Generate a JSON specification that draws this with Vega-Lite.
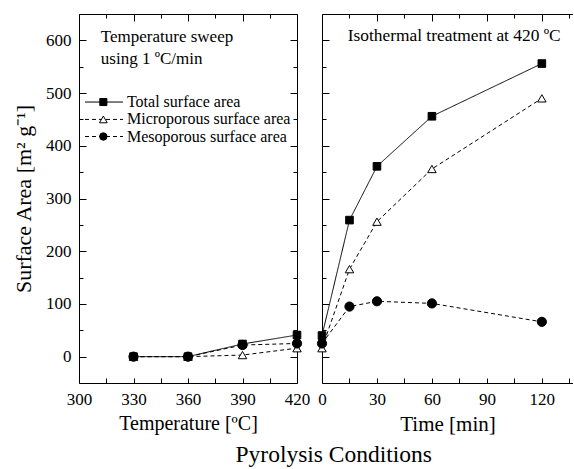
{
  "$schema": "https://vega.github.io/schema/vega-lite/v6.json",
  "background": "white",
  "padding": {"left": 12, "top": 13, "right": 0, "bottom": 4},
  "bounds": "flush",
  "spacing": 25,
  "title": {"text": "Pyrolysis Conditions", "orient": "bottom", "anchor": "middle", "fontSize": 23.5, "font": "Liberation Serif", "fontWeight": "normal", "color": "black", "offset": 9, "dx": 41},
  "config": {
    "font": "Liberation Serif",
    "view": {"stroke": null},
    "axis": {"domainColor": "black", "tickColor": "black", "labelColor": "black", "titleColor": "black", "labelFont": "Liberation Serif", "titleFont": "Liberation Serif", "labelFontSize": 17, "titleFontSize": 20, "titleFontWeight": "normal", "grid": false, "tickWidth": 1, "domainWidth": 1, "labelFlush": false, "labelOverlap": false}
  },
  "datasets": {
    "temp": [
      {"temp": 330, "series": "Total surface area", "area": 0},
      {"temp": 360, "series": "Total surface area", "area": 0},
      {"temp": 390, "series": "Total surface area", "area": 24},
      {"temp": 420, "series": "Total surface area", "area": 41},
      {"temp": 330, "series": "Microporous surface area", "area": 0},
      {"temp": 360, "series": "Microporous surface area", "area": 0},
      {"temp": 390, "series": "Microporous surface area", "area": 3},
      {"temp": 420, "series": "Microporous surface area", "area": 16},
      {"temp": 330, "series": "Mesoporous surface area", "area": 0},
      {"temp": 360, "series": "Mesoporous surface area", "area": 0},
      {"temp": 390, "series": "Mesoporous surface area", "area": 22},
      {"temp": 420, "series": "Mesoporous surface area", "area": 25}
    ],
    "time": [
      {"time": 0, "series": "Total surface area", "area": 40},
      {"time": 15, "series": "Total surface area", "area": 259},
      {"time": 30, "series": "Total surface area", "area": 361},
      {"time": 60, "series": "Total surface area", "area": 456},
      {"time": 120, "series": "Total surface area", "area": 556},
      {"time": 0, "series": "Microporous surface area", "area": 16},
      {"time": 15, "series": "Microporous surface area", "area": 166},
      {"time": 30, "series": "Microporous surface area", "area": 256},
      {"time": 60, "series": "Microporous surface area", "area": 356},
      {"time": 120, "series": "Microporous surface area", "area": 490},
      {"time": 0, "series": "Mesoporous surface area", "area": 25},
      {"time": 15, "series": "Mesoporous surface area", "area": 95},
      {"time": 30, "series": "Mesoporous surface area", "area": 105},
      {"time": 60, "series": "Mesoporous surface area", "area": 101},
      {"time": 120, "series": "Mesoporous surface area", "area": 66}
    ]
  },
  "hconcat": [
    {
      "width": 218,
      "height": 369,
      "data": {"name": "temp"},
      "layer": [
        {
          "mark": {"type": "line", "color": "black", "strokeWidth": 1},
          "encoding": {
            "x": {"field": "temp", "type": "quantitative", "scale": {"domain": [300, 420], "nice": false, "zero": false},
              "axis": {"orient": "bottom", "title": "Temperature [ºC]", "values": [300, 315, 330, 345, 360, 375, 390, 405, 420], "labelExpr": "datum.value % 30 === 0 ? datum.label : ''", "tickSize": -5, "labelPadding": 13, "titlePadding": 6}},
            "y": {"field": "area", "type": "quantitative", "scale": {"domain": [-50, 650], "nice": false, "zero": false},
              "axis": {"orient": "left", "title": "Surface Area [m² g⁻¹]", "titleFontSize": 22, "values": [0, 50, 100, 150, 200, 250, 300, 350, 400, 450, 500, 550, 600], "labelExpr": "datum.value % 100 === 0 ? datum.label : ''", "tickSize": {"condition": {"test": "datum.value % 100 === 0", "value": -7}, "value": -4}, "labelPadding": 15, "titlePadding": 10}},
            "strokeDash": {"field": "series", "type": "nominal", "scale": {"domain": ["Total surface area", "Microporous surface area", "Mesoporous surface area"], "range": [[1, 0], [4, 3], [4, 3]]}, "legend": null}
          }
        },
        {
          "mark": {"type": "point", "stroke": "black", "strokeWidth": 1, "opacity": 1},
          "encoding": {
            "x": {"field": "temp", "type": "quantitative", "scale": {"domain": [300, 420], "nice": false, "zero": false},
              "axis": {"orient": "top", "title": null, "labels": false, "values": [300, 315, 330, 345, 360, 375, 390, 405, 420], "tickSize": {"condition": {"test": "datum.value % 30 === 0", "value": -7}, "value": -4}}},
            "y": {"field": "area", "type": "quantitative", "scale": {"domain": [-50, 650], "nice": false, "zero": false},
              "axis": {"orient": "right", "title": null, "labels": false, "values": [0, 50, 100, 150, 200, 250, 300, 350, 400, 450, 500, 550, 600], "tickSize": {"condition": {"test": "datum.value % 100 === 0", "value": -7}, "value": -4}}},
            "shape": {"field": "series", "type": "nominal", "scale": {"domain": ["Total surface area", "Microporous surface area", "Mesoporous surface area"], "range": ["square", "triangle-up", "circle"]}, "legend": null},
            "fill": {"field": "series", "type": "nominal", "scale": {"domain": ["Total surface area", "Microporous surface area", "Mesoporous surface area"], "range": ["black", "white", "black"]}, "legend": null},
            "size": {"field": "series", "type": "nominal", "scale": {"domain": ["Total surface area", "Microporous surface area", "Mesoporous surface area"], "range": [58, 85, 65]}, "legend": null}
          }
        },
        {
          "data": {"values": [{}]},
          "mark": {"type": "text", "align": "left", "baseline": "middle", "font": "Liberation Serif", "fontSize": 17, "lineHeight": 22, "color": "black"},
          "encoding": {
            "x": {"datum": 312, "type": "quantitative", "axis": null},
            "y": {"datum": 606, "type": "quantitative", "axis": null},
            "text": {"value": ["Temperature sweep", "using 1 ºC/min"]}
          }
        },
        {
          "data": {"values": [{}]},
          "mark": {"type": "rule", "color": "black", "strokeWidth": 1},
          "encoding": {
            "x": {"datum": 303.3, "type": "quantitative", "axis": null},
            "x2": {"datum": 324.2},
            "y": {"datum": 483, "type": "quantitative", "axis": null}
          }
        },
        {
          "data": {"values": [{}]},
          "mark": {"type": "rule", "color": "black", "strokeWidth": 1, "strokeDash": [4, 3]},
          "encoding": {
            "x": {"datum": 303.3, "type": "quantitative", "axis": null},
            "x2": {"datum": 324.2},
            "y": {"datum": 450, "type": "quantitative", "axis": null}
          }
        },
        {
          "data": {"values": [{}]},
          "mark": {"type": "rule", "color": "black", "strokeWidth": 1, "strokeDash": [4, 3]},
          "encoding": {
            "x": {"datum": 303.3, "type": "quantitative", "axis": null},
            "x2": {"datum": 324.2},
            "y": {"datum": 417.6, "type": "quantitative", "axis": null}
          }
        },
        {
          "data": {"values": [{}]},
          "mark": {"type": "point", "shape": "square", "size": 50, "fill": "black", "stroke": "black", "strokeWidth": 1, "opacity": 1, "filled": true},
          "encoding": {
            "x": {"datum": 313.4, "type": "quantitative", "axis": null},
            "y": {"datum": 483, "type": "quantitative", "axis": null}
          }
        },
        {
          "data": {"values": [{}]},
          "mark": {"type": "point", "shape": "triangle-up", "size": 60, "fill": "white", "stroke": "black", "strokeWidth": 1, "opacity": 1},
          "encoding": {
            "x": {"datum": 313.4, "type": "quantitative", "axis": null},
            "y": {"datum": 450, "type": "quantitative", "axis": null}
          }
        },
        {
          "data": {"values": [{}]},
          "mark": {"type": "point", "shape": "circle", "size": 55, "fill": "black", "stroke": "black", "strokeWidth": 1, "opacity": 1, "filled": true},
          "encoding": {
            "x": {"datum": 313.4, "type": "quantitative", "axis": null},
            "y": {"datum": 417.6, "type": "quantitative", "axis": null}
          }
        },
        {
          "data": {"values": [{}]},
          "mark": {"type": "text", "align": "left", "baseline": "middle", "font": "Liberation Serif", "fontSize": 16, "color": "black"},
          "encoding": {
            "x": {"datum": 326.4, "type": "quantitative", "axis": null},
            "y": {"datum": 483, "type": "quantitative", "axis": null},
            "text": {"value": "Total surface area"}
          }
        },
        {
          "data": {"values": [{}]},
          "mark": {"type": "text", "align": "left", "baseline": "middle", "font": "Liberation Serif", "fontSize": 16, "color": "black"},
          "encoding": {
            "x": {"datum": 326.4, "type": "quantitative", "axis": null},
            "y": {"datum": 450, "type": "quantitative", "axis": null},
            "text": {"value": "Microporous surface area"}
          }
        },
        {
          "data": {"values": [{}]},
          "mark": {"type": "text", "align": "left", "baseline": "middle", "font": "Liberation Serif", "fontSize": 16, "color": "black"},
          "encoding": {
            "x": {"datum": 326.4, "type": "quantitative", "axis": null},
            "y": {"datum": 417.6, "type": "quantitative", "axis": null},
            "text": {"value": "Mesoporous surface area"}
          }
        }
      ],
      "resolve": {"axis": {"x": "independent", "y": "independent"}}
    },
    {
      "width": 251,
      "height": 369,
      "data": {"name": "time"},
      "layer": [
        {
          "mark": {"type": "line", "color": "black", "strokeWidth": 1},
          "encoding": {
            "x": {"field": "time", "type": "quantitative", "scale": {"domain": [0, 137], "nice": false, "zero": false},
              "axis": {"orient": "bottom", "title": "Time [min]", "titleFontSize": 21, "values": [0, 15, 30, 45, 60, 75, 90, 105, 120, 135], "labelExpr": "datum.value % 30 === 0 ? datum.label : ''", "tickSize": -5, "labelPadding": 13, "titlePadding": 6}},
            "y": {"field": "area", "type": "quantitative", "scale": {"domain": [-50, 650], "nice": false, "zero": false},
              "axis": {"orient": "left", "title": null, "labels": false, "values": [0, 50, 100, 150, 200, 250, 300, 350, 400, 450, 500, 550, 600], "tickSize": {"condition": {"test": "datum.value % 100 === 0", "value": -7}, "value": -4}}},
            "strokeDash": {"field": "series", "type": "nominal", "scale": {"domain": ["Total surface area", "Microporous surface area", "Mesoporous surface area"], "range": [[1, 0], [4, 3], [4, 3]]}, "legend": null}
          }
        },
        {
          "mark": {"type": "point", "stroke": "black", "strokeWidth": 1, "opacity": 1},
          "encoding": {
            "x": {"field": "time", "type": "quantitative", "scale": {"domain": [0, 137], "nice": false, "zero": false},
              "axis": {"orient": "top", "title": null, "labels": false, "values": [0, 15, 30, 45, 60, 75, 90, 105, 120, 135], "tickSize": {"condition": {"test": "datum.value % 30 === 0", "value": -7}, "value": -4}}},
            "y": {"field": "area", "type": "quantitative", "scale": {"domain": [-50, 650], "nice": false, "zero": false}, "axis": null},
            "shape": {"field": "series", "type": "nominal", "scale": {"domain": ["Total surface area", "Microporous surface area", "Mesoporous surface area"], "range": ["square", "triangle-up", "circle"]}, "legend": null},
            "fill": {"field": "series", "type": "nominal", "scale": {"domain": ["Total surface area", "Microporous surface area", "Mesoporous surface area"], "range": ["black", "white", "black"]}, "legend": null},
            "size": {"field": "series", "type": "nominal", "scale": {"domain": ["Total surface area", "Microporous surface area", "Mesoporous surface area"], "range": [58, 85, 65]}, "legend": null}
          }
        },
        {
          "data": {"values": [{}]},
          "mark": {"type": "text", "align": "left", "baseline": "middle", "font": "Liberation Serif", "fontSize": 17.4, "color": "black"},
          "encoding": {
            "x": {"datum": 14, "type": "quantitative", "axis": null},
            "y": {"datum": 608, "type": "quantitative", "axis": null},
            "text": {"value": "Isothermal treatment at 420 ºC"}
          }
        }
      ],
      "resolve": {"axis": {"x": "independent", "y": "independent"}}
    }
  ]
}
